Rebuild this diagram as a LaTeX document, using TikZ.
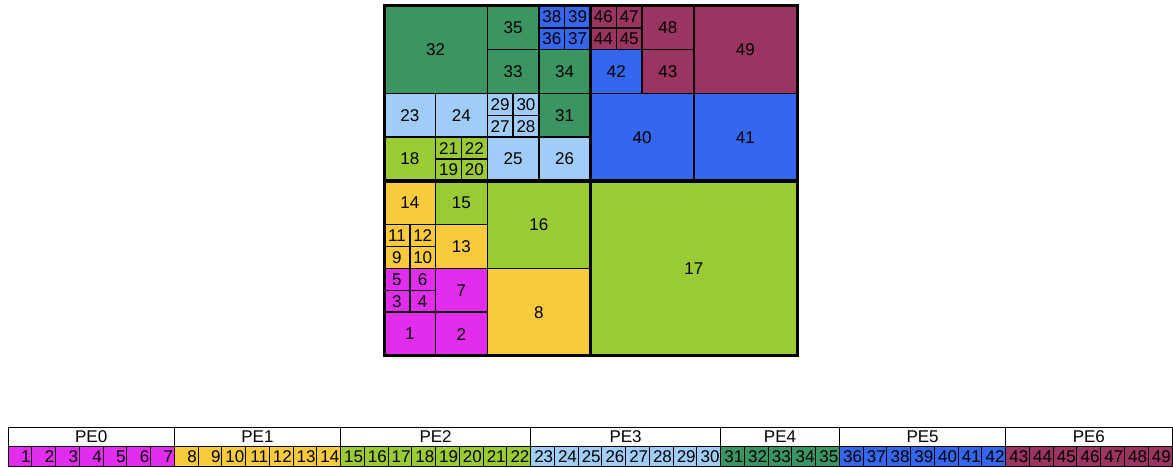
\documentclass[tikz,border=0pt]{standalone}
\usepackage{fontspec}
\setmainfont{Liberation Sans}
\usepackage{tikz}
\usetikzlibrary{positioning}
\definecolor{pe0}{HTML}{E22CEE}
\definecolor{pe1}{HTML}{F8CA3C}
\definecolor{pe2}{HTML}{9ACB34}
\definecolor{pe3}{HTML}{9FCDF7}
\definecolor{pe4}{HTML}{3A9562}
\definecolor{pe5}{HTML}{3466EE}
\definecolor{pe6}{HTML}{9A3462}

\tikzset{
    qcell/.style={draw=black, line width=1.5pt, inner sep=0pt, outer sep=0pt, font=\fontsize{17}{17}\selectfont},
    bcell/.style={draw=black, line width=1pt, inner xsep=1.2pt, inner ysep=0pt, outer sep=0pt, text width=21.355pt, align=right, minimum height=20pt, anchor=south west, font=\fontsize{17}{17}\selectfont},
    bhead/.style={draw=black, fill=white, line width=1pt, inner sep=0pt, outer sep=0pt, minimum height=19.2pt, anchor=south west, font=\fontsize{17}{17}\selectfont},
    qline/.style={draw=black, line width=3.5pt},
}

\begin{document}
\begin{tikzpicture}[x=1pt, y=1pt]
    \useasboundingbox (0,0) rectangle (1173,468);
    % quadtree cells: number / column / row / size (in half cells) / PE
    \foreach \n/\c/\r/\s/\p in {1/0/0/2/0, 2/2/0/2/0, 3/0/2/1/0, 4/1/2/1/0, 5/0/3/1/0, 6/1/3/1/0, 7/2/2/2/0,
        8/4/0/4/1, 9/0/4/1/1, 10/1/4/1/1, 11/0/5/1/1, 12/1/5/1/1, 13/2/4/2/1, 14/0/6/2/1,
        15/2/6/2/2, 16/4/4/4/2, 17/8/0/8/2, 18/0/8/2/2, 19/2/8/1/2, 20/3/8/1/2, 21/2/9/1/2, 22/3/9/1/2,
        23/0/10/2/3, 24/2/10/2/3, 25/4/8/2/3, 26/6/8/2/3, 27/4/10/1/3, 28/5/10/1/3, 29/4/11/1/3, 30/5/11/1/3,
        31/6/10/2/4, 32/0/12/4/4, 33/4/12/2/4, 34/6/12/2/4, 35/4/14/2/4,
        36/6/14/1/5, 37/7/14/1/5, 38/6/15/1/5, 39/7/15/1/5, 40/8/8/4/5, 41/12/8/4/5, 42/8/12/2/5,
        43/10/12/2/6, 44/8/14/1/6, 45/9/14/1/6, 46/8/15/1/6, 47/9/15/1/6, 48/10/14/2/6, 49/12/12/4/6} {
        \node[qcell, fill=pe\p, minimum width=\s*25.8125pt, minimum height=\s*21.875pt] (q\n)
            at ({384+(\c+0.5*\s)*25.8125}, {112+(\r+0.5*\s)*21.875}) {\n};
    }
    \draw[qline] (q17.south west) -- (q46.north west);
    \draw[qline] (q18.south west) -- (q41.south east);
    \draw[line width=3pt] (q1.south west) rectangle (q49.north east);

    % PE strip
    \foreach \p/\first/\last in {0/1/7, 1/8/14, 2/15/22, 3/23/30, 4/31/35, 5/36/42, 6/43/49} {
        \foreach \i in {\first,...,\last} {
            \node[bcell, fill=pe\p] (b\i) at ({8+(\i-1)*23.755}, 1.5) {\i};
        }
        \node[bhead, minimum width=(\last-\first+1)*23.755pt] (h\p) at ({8+(\first-1)*23.755}, 21.5) {PE\p};
    }
\end{tikzpicture}
\end{document}
